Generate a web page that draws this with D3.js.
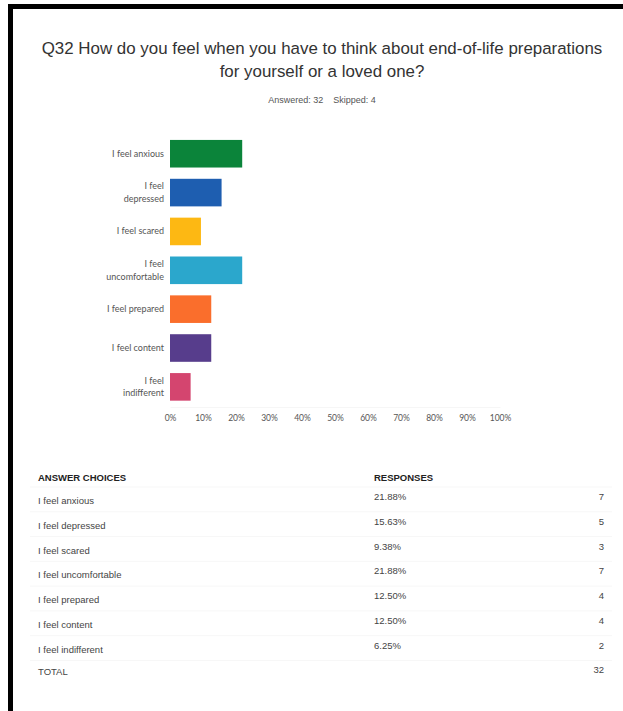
<!DOCTYPE html>
<html>
<head>
<meta charset="utf-8">
<script src="https://cdn.jsdelivr.net/npm/d3@7"></script>
<style>
  html, body { margin: 0; padding: 0; background: #fff; }
  svg { display: block; }
</style>
</head>
<body>
<svg id="chart" width="623" height="711"></svg>
<script>
// Survey question Q32 – responses per answer choice
const choices = [
  "I feel anxious",
  "I feel depressed",
  "I feel scared",
  "I feel uncomfortable",
  "I feel prepared",
  "I feel content",
  "I feel indifferent"
];
// Chart labels (line-broken the way they are drawn beside the bars)
const barLabels = [
  ["I feel anxious"],
  ["I feel", "depressed"],
  ["I feel scared"],
  ["I feel", "uncomfortable"],
  ["I feel prepared"],
  ["I feel content"],
  ["I feel", "indifferent"]
];
const percents = [21.88, 15.63, 9.38, 21.88, 12.50, 12.50, 6.25];
const counts = [7, 5, 3, 7, 4, 4, 2];
const total = 32;
const answered = 32;
const skipped = 4;
const barColors = ["#0b843a", "#1e5eb0", "#fdb813", "#2ba7cc", "#fa6e2c", "#573d8c", "#d4456f"];
const xTicks = [0, 10, 20, 30, 40, 50, 60, 70, 80, 90, 100];

const svg = d3.select("#chart");

// Frame: heavy rule along top and left edge
svg.append("rect").attr("x", 8).attr("y", 4).attr("width", 615).attr("height", 5).attr("fill", "#000");
svg.append("rect").attr("x", 8).attr("y", 4).attr("width", 5).attr("height", 707).attr("fill", "#000");

// Title
const titleFont = "'Liberation Sans', Arial, sans-serif";
const title = svg.append("text")
  .attr("text-anchor", "middle")
  .attr("font-family", titleFont)
  .attr("font-size", 16.9)
  .attr("fill", "#333");
title.append("tspan").attr("x", 322).attr("y", 54)
  .text("Q32 How do you feel when you have to think about end-of-life preparations");
title.append("tspan").attr("x", 322).attr("y", 77)
  .text("for yourself or a loved one?");

svg.append("text")
  .attr("x", 322).attr("y", 103)
  .attr("text-anchor", "middle")
  .attr("font-family", titleFont)
  .attr("font-size", 9)
  .attr("fill", "#555")
  .attr("xml:space", "preserve")
  .text(`Answered: ${answered}    Skipped: ${skipped}`);

// Bar chart
const x = d3.scaleLinear().domain([0, 100]).range([170, 500]);
const y = d3.scaleBand().domain(choices).range([134.3, 406.3]).paddingInner(0.29).paddingOuter(0.145);

const chartFont = "Lato, 'Open Sans', sans-serif";

svg.append("g").selectAll("rect").data(choices).join("rect")
  .attr("x", x(0))
  .attr("y", d => y(d))
  .attr("width", (d, i) => x(percents[i]) - x(0))
  .attr("height", y.bandwidth())
  .attr("fill", (d, i) => barColors[i]);

// category labels
const lab = svg.append("g").selectAll("text").data(choices).join("text")
  .attr("text-anchor", "end")
  .attr("font-family", chartFont)
  .attr("font-size", 9)
  .attr("fill", "#555");
lab.each(function(d, i) {
  const lines = barLabels[i];
  const cy = y(d) + y.bandwidth() / 2;
  const lh = 12.5;
  const t = d3.select(this);
  lines.forEach((ln, j) => {
    t.append("tspan")
      .attr("x", 164)
      .attr("y", cy + 3 + (j - (lines.length - 1) / 2) * lh)
      .text(ln);
  });
});

// x axis labels
const xAxis = d3.axisBottom(x).tickValues(xTicks).tickFormat(d => d + "%").tickSize(0).tickPadding(8);
const ax = svg.append("g").attr("transform", "translate(0,407)").call(xAxis);
ax.select(".domain").attr("stroke", "#f6f6f6");
ax.selectAll("text")
  .attr("font-family", chartFont)
  .attr("font-size", 8.5)
  .attr("fill", "#555");

// Response table
const tFont = "'Liberation Sans', Arial, sans-serif";
const rowY = d3.scaleLinear().domain([0, 7]).range([504, 677.5]);
const colChoice = 38, colPct = 374, colCount = 604;

svg.append("text").attr("x", colChoice).attr("y", 481)
  .attr("font-family", tFont).attr("font-size", 9.5).attr("font-weight", "bold").attr("fill", "#222")
  .text("ANSWER CHOICES");
svg.append("text").attr("x", colPct).attr("y", 481)
  .attr("font-family", tFont).attr("font-size", 9.5).attr("font-weight", "bold").attr("fill", "#222")
  .text("RESPONSES");

// faint row separators
svg.append("g").selectAll("line").data(d3.range(8)).join("line")
  .attr("x1", 30).attr("x2", 612)
  .attr("y1", d => rowY(d) - 17).attr("y2", d => rowY(d) - 17)
  .attr("stroke", "#f7f7f7").attr("stroke-width", 1);

const rows = svg.append("g").selectAll("g").data(choices).join("g")
  .attr("font-family", tFont).attr("font-size", 9.5).attr("fill", "#444");
rows.append("text").attr("x", colChoice).attr("y", (d, i) => rowY(i)).text(d => d);
rows.append("text").attr("x", colPct).attr("y", (d, i) => rowY(i) - 4).text((d, i) => percents[i].toFixed(2) + "%");
rows.append("text").attr("x", colCount).attr("y", (d, i) => rowY(i) - 4).attr("text-anchor", "end").text((d, i) => counts[i]);

svg.append("text").attr("x", colChoice).attr("y", rowY(7) - 3)
  .attr("font-family", tFont).attr("font-size", 9.5).attr("fill", "#444").text("TOTAL");
svg.append("text").attr("x", colCount).attr("y", rowY(7) - 5).attr("text-anchor", "end")
  .attr("font-family", tFont).attr("font-size", 9.5).attr("fill", "#444").text(total);
</script>
</body>
</html>
